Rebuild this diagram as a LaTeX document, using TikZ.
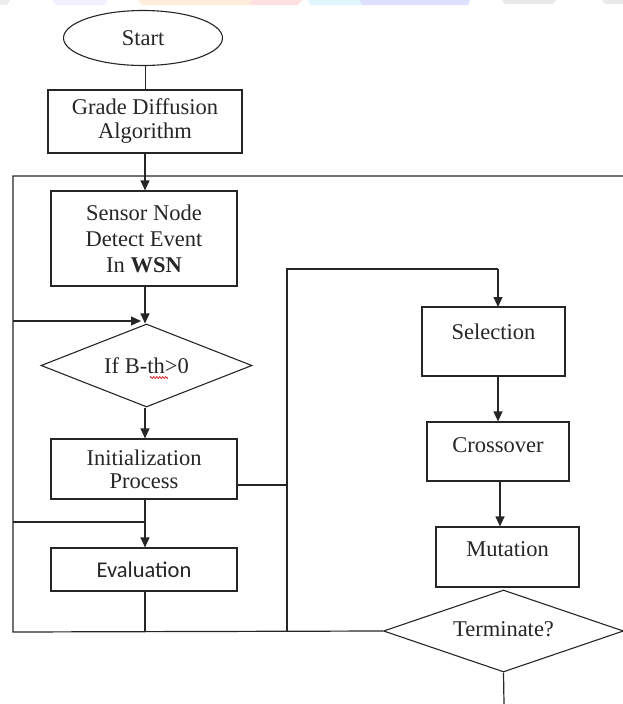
\documentclass[tikz,border=0pt]{standalone}
\usepackage{fontspec}
\setmainfont{Liberation Serif}
\newfontfamily\calib{Carlito}
\usetikzlibrary{shapes.geometric,arrows.meta,decorations.pathmorphing}
\begin{document}
\begin{tikzpicture}[x=1pt,y=-1pt,
  line/.style={draw=black!85,line width=1.2pt},
  arr/.style={line,-{Triangle[length=10pt,width=9pt]}},
  box/.style={draw=black!85,line width=1.2pt,rectangle,inner sep=0pt,align=center,text=black!85,
    font=\fontsize{22.5}{24}\selectfont},
  dia/.style={draw=black!85,line width=1.1pt,diamond,aspect=3,inner sep=0pt,align=center,text=black!85,
    font=\fontsize{22.5}{24}\selectfont},
  band/.style={draw=none}]
\useasboundingbox (0,0) rectangle (623,704);
% faint coloured bands at the top edge
\fill[band,fill=gray!15] (0,0) -- (10,0) -- (7,5) -- (0,5) -- cycle;
\fill[band,fill=gray!18!blue!6] (52,0) -- (108,0) -- (104,5) -- (56,5) -- cycle;
\fill[band,fill=orange!14] (138,0) -- (252,0) -- (250,5) -- (142,5) -- cycle;
\fill[band,fill=red!12] (252,0) -- (302,0) -- (298,5) -- (250,5) -- cycle;
\fill[band,fill=cyan!12] (308,0) -- (362,0) -- (362,5) -- (310,5) -- cycle;
\fill[band,fill=blue!13] (360,0) -- (470,0) -- (468,5) -- (362,5) -- cycle;
\fill[band,fill=gray!17] (502,0) -- (556,0) -- (553,4) -- (505,4) -- cycle;
\fill[band,fill=gray!17] (602,0) -- (623,0) -- (623,4) -- (605,4) -- cycle;

% nodes
\node[ellipse,draw=black!85,line width=1.1pt,minimum width=159pt,minimum height=55pt,inner sep=0pt,
  text=black!85,font=\fontsize{22.5}{24}\selectfont] (start) at (143,38) {Start};
\node[box,minimum width=194pt,minimum height=63pt] (grade) at (145,121.5) {Grade Diffusion\\Algorithm};
\node[box,minimum width=186pt,minimum height=95pt,font=\fontsize{22.5}{26}\selectfont] (sensor) at (144,238.5)
  {Sensor Node\\Detect Event\\In \textbf{WSN}};
\node[dia,minimum width=211pt,minimum height=83pt] (cond) at (146.5,365.5) {If B-th>0};
\node[box,minimum width=186pt,minimum height=60pt,font=\fontsize{22.5}{23}\selectfont] (init) at (144,469) {Initialization\\Process};
\node[box,minimum width=186pt,minimum height=43pt,font=\calib\fontsize{22.5}{24}\selectfont] (eval) at (144,569.5) {Evaluation};
\node[box,minimum width=143pt,minimum height=69pt,label={[yshift=10pt,text=black!85,font=\fontsize{22.5}{24}\selectfont]center:Selection}] (sel) at (493.5,341.5) {};
\node[box,minimum width=142pt,minimum height=59pt,label={[yshift=6.5pt,text=black!85,font=\fontsize{22.5}{24}\selectfont]center:Crossover}] (cross) at (498,451.5) {};
\node[box,minimum width=143pt,minimum height=60pt,label={[yshift=8pt,text=black!85,font=\fontsize{22.5}{24}\selectfont]center:Mutation}] (mut) at (507.5,557) {};
\node[dia,minimum width=240pt,minimum height=82pt] (term) at (503.5,631) {\raisebox{3pt}{Terminate?}};

% spell-check squiggle
\draw[red!80!black,line width=0.6pt,decorate,decoration={zigzag,amplitude=1pt,segment length=3pt}] (150,377.5) -- (168,377.5);

% helper coordinates
\coordinate (tl) at (13,176);
\coordinate (tr) at (623,176);
\coordinate (bl) at (13,632);
\coordinate (ml) at (13,321);
\coordinate (mj) at (141,321);
\coordinate (ll) at (13,522);
\coordinate (lj) at (145,522);
\coordinate (ib) at (237,485);
\coordinate (rt) at (287,269);
\coordinate (rb) at (287,632);
\coordinate (rr) at (498,269);
\coordinate (sa) at (498,307);
\coordinate (eb) at (145,632);
\coordinate (tend) at (504,704);

% connectors
\draw[line] (start.south -| 145.7,0) -- (grade.north -| 145.7,0);
\draw[arr] (grade.south -| 145,0) -- (sensor.north -| 145,0);
\draw[line] (tr) -- (tl) -- (bl) -- (term.west);
\draw[arr] (sensor.south -| 145,0) -- (cond.north -| 145,0);
\draw[arr] (ml) -- (mj);
\draw[arr] (cond.south -| 145,0) -- (init.north -| 145,0);
\draw[arr] (init.south -| 145,0) -- (eval.north -| 145,0);
\draw[line] (ll) -- (lj);
\draw[line] (ib) -- (ib -| rt);
\draw[line] (rb) -- (rt) -- (rr);
\draw[arr] (rr) -- (sa);
\draw[arr] (sel.south -| 498,0) -- (cross.north -| 498,0);
\draw[arr] (cross.south -| 500,0) -- (mut.north -| 500,0);
\draw[line] (eval.south -| eb) -- (eb);
\draw[line] (term.south) -- (tend);
\end{tikzpicture}
\end{document}
